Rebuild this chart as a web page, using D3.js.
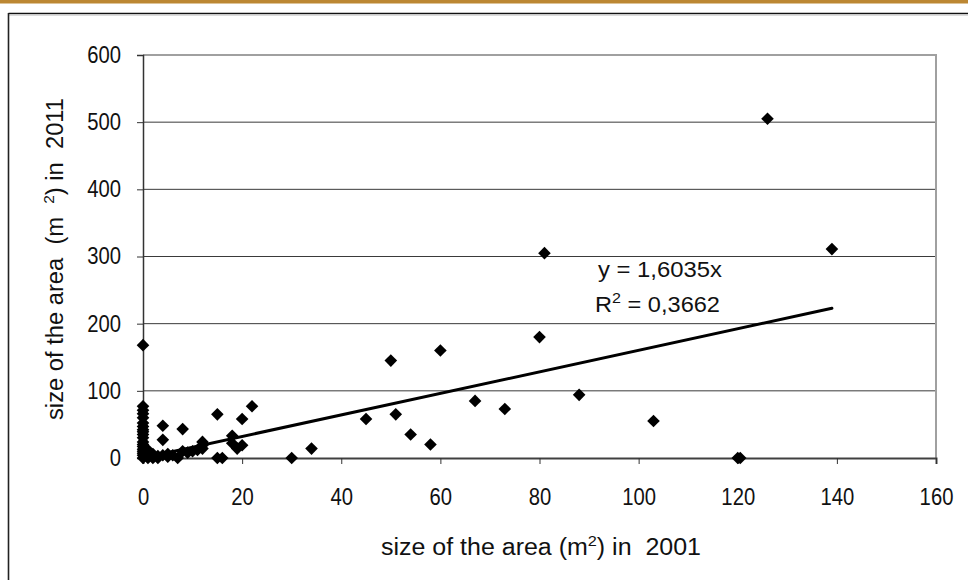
<!DOCTYPE html>
<html>
<head>
<meta charset="utf-8">
<script src="https://cdn.jsdelivr.net/npm/d3@7/dist/d3.min.js"></script>
<style>
  html, body { margin: 0; padding: 0; background: #fff; }
  svg { display: block; font-family: "Liberation Sans", Arial, sans-serif; }
  text { white-space: pre; }
</style>
</head>
<body>
<svg id="chart" width="968" height="580"></svg>
<script>
// ---- data: size of the area (m2) in 2001 vs 2011 ----
const area2001 = [
  126, 139, 81, 80, 60, 50, 88, 67, 73, 103, 120, 120.5, 45, 51, 54, 58, 34, 30,
  0, 0, 0, 0, 0, 0, 0, 0, 0, 0, 0, 0, 0, 0, 0, 0, 0, 0, 0,
  1, 1, 1, 2, 2, 3, 3, 4, 4, 4, 5, 5, 6, 7, 8, 8, 9, 10, 11, 12, 12, 12,
  15, 15, 16, 18, 18, 19, 20, 20, 22
];
const area2011 = [
  505, 311, 305, 180, 160, 145, 94, 85, 73, 55, 0, 0, 58, 65, 35, 20, 14, 0,
  168, 77, 66, 60, 52, 42, 30, 24, 17, 10, 4, 0, 39, 7, 13, 20, 35, 47, 71,
  0, 3, 12, 0, 6, 0, 3, 48, 27, 4, 2, 6, 4, 0, 43, 10, 8, 10, 12, 19, 24, 14,
  65, 0, 0, 33, 22, 14, 19, 58, 77
];
const xTicks = [0, 20, 40, 60, 80, 100, 120, 140, 160];
const yTicks = [0, 100, 200, 300, 400, 500, 600];
const slope = 1.6035;
const rSquared = "0,3662";
const slopeLabel = "1,6035";

// ---- layout ----
const svg = d3.select("#chart");
const L = 143, R = 936, T = 55, B = 458;
const FS = 23, SX = 0.88;

const x = d3.scaleLinear().domain([0, 160]).range([L, R]);
const y = d3.scaleLinear().domain([0, 600]).range([B, T]);

// top gold band
svg.append("rect").attr("x", 0).attr("y", 0).attr("width", 968).attr("height", 3.5)
  .attr("fill", "#bc8733");
// outer frame
svg.append("line").attr("x1", 8.5).attr("x2", 968).attr("y1", 13.5).attr("y2", 13.5)
  .attr("stroke", "#111").attr("stroke-width", 1.5);
svg.append("line").attr("x1", 9).attr("x2", 968).attr("y1", 15.2).attr("y2", 15.2)
  .attr("stroke", "#cfcfcf").attr("stroke-width", 1.2);
svg.append("line").attr("x1", 8.5).attr("x2", 8.5).attr("y1", 13).attr("y2", 580)
  .attr("stroke", "#222").attr("stroke-width", 1.6);

// gridlines
svg.append("g").selectAll("line").data(yTicks.filter(d => d > 0 && d < 600)).join("line")
  .attr("x1", L).attr("x2", R)
  .attr("y1", d => y(d)).attr("y2", d => y(d))
  .attr("stroke", "#3a3a3a").attr("stroke-width", 1);

// plot border top & right (gray)
svg.append("path")
  .attr("d", `M${L},${T}H${R}V${B}`)
  .attr("fill", "none").attr("stroke", "#a0a0a0").attr("stroke-width", 2);

// axes
const yAxis = d3.axisLeft(y).tickValues(yTicks).tickSize(6).tickPadding(16);
const gy = svg.append("g").attr("transform", `translate(${L},0)`).call(yAxis);
gy.select(".domain").attr("stroke", "#333").attr("stroke-width", 1.5);
gy.selectAll(".tick line").attr("stroke", "#333");
gy.selectAll("text").attr("font-size", FS).attr("fill", "#111")
  .attr("font-family", "Liberation Sans, Arial, sans-serif")
  .attr("x", 0).attr("transform", `translate(-22,0) scale(${SX},1)`);

const xAxis = d3.axisBottom(x).tickValues(xTicks).tickSize(6).tickPadding(25);
const gx = svg.append("g").attr("transform", `translate(0,${B})`).call(xAxis);
gx.select(".domain").attr("stroke", "#404040").attr("stroke-width", 2);
gx.selectAll(".tick line").attr("stroke", "#333");
gx.selectAll("text").attr("font-size", FS).attr("fill", "#111")
  .attr("font-family", "Liberation Sans, Arial, sans-serif")
  .attr("transform", `scale(${SX},1)`);

// points
const pts = area2001.map((d, i) => [d, area2011[i]]);
svg.append("g").selectAll("path").data(pts).join("path")
  .attr("transform", d => `translate(${x(d[0])},${y(d[1])})`)
  .attr("d", "M0,-6.3L6.3,0L0,6.3L-6.3,0Z")
  .attr("fill", "#000");

// trendline (through origin)
const xMax = d3.max(area2001);
svg.append("line")
  .attr("x1", x(0)).attr("y1", y(0))
  .attr("x2", x(xMax)).attr("y2", y(slope * xMax))
  .attr("stroke", "#000").attr("stroke-width", 3).attr("stroke-linecap", "round");

// equation labels
const eq = svg.append("g").attr("font-size", 22).attr("fill", "#111");
eq.append("text").attr("x", 598).attr("y", 277)
  .attr("textLength", 124).attr("lengthAdjust", "spacingAndGlyphs")
  .text(`y = ${slopeLabel}x`);
const r2 = eq.append("text").attr("x", 595).attr("y", 312)
  .attr("textLength", 125).attr("lengthAdjust", "spacingAndGlyphs");
r2.append("tspan").text("R");
r2.append("tspan").attr("font-size", 15).attr("dy", -9).text("2");
r2.append("tspan").attr("dy", 9).text(` = ${rSquared}`);

// x axis title
const xt = svg.append("text").attr("x", 381).attr("y", 555)
  .attr("textLength", 320).attr("lengthAdjust", "spacingAndGlyphs")
  .attr("font-size", FS).attr("fill", "#111");
xt.append("tspan").text("size of the area (m");
xt.append("tspan").attr("font-size", 15).attr("dy", -9).text("2");
xt.append("tspan").attr("dy", 9).text(") in  2001");

// y axis title
const yt = svg.append("text")
  .attr("transform", `translate(63,420) rotate(-90)`)
  .attr("textLength", 322).attr("lengthAdjust", "spacingAndGlyphs")
  .attr("font-size", FS).attr("fill", "#111");
yt.append("tspan").text("size of the area  (m  ");
yt.append("tspan").attr("font-size", 15).attr("dy", -9).text("2");
yt.append("tspan").attr("dy", 9).text(") in  2011");
</script>
</body>
</html>
